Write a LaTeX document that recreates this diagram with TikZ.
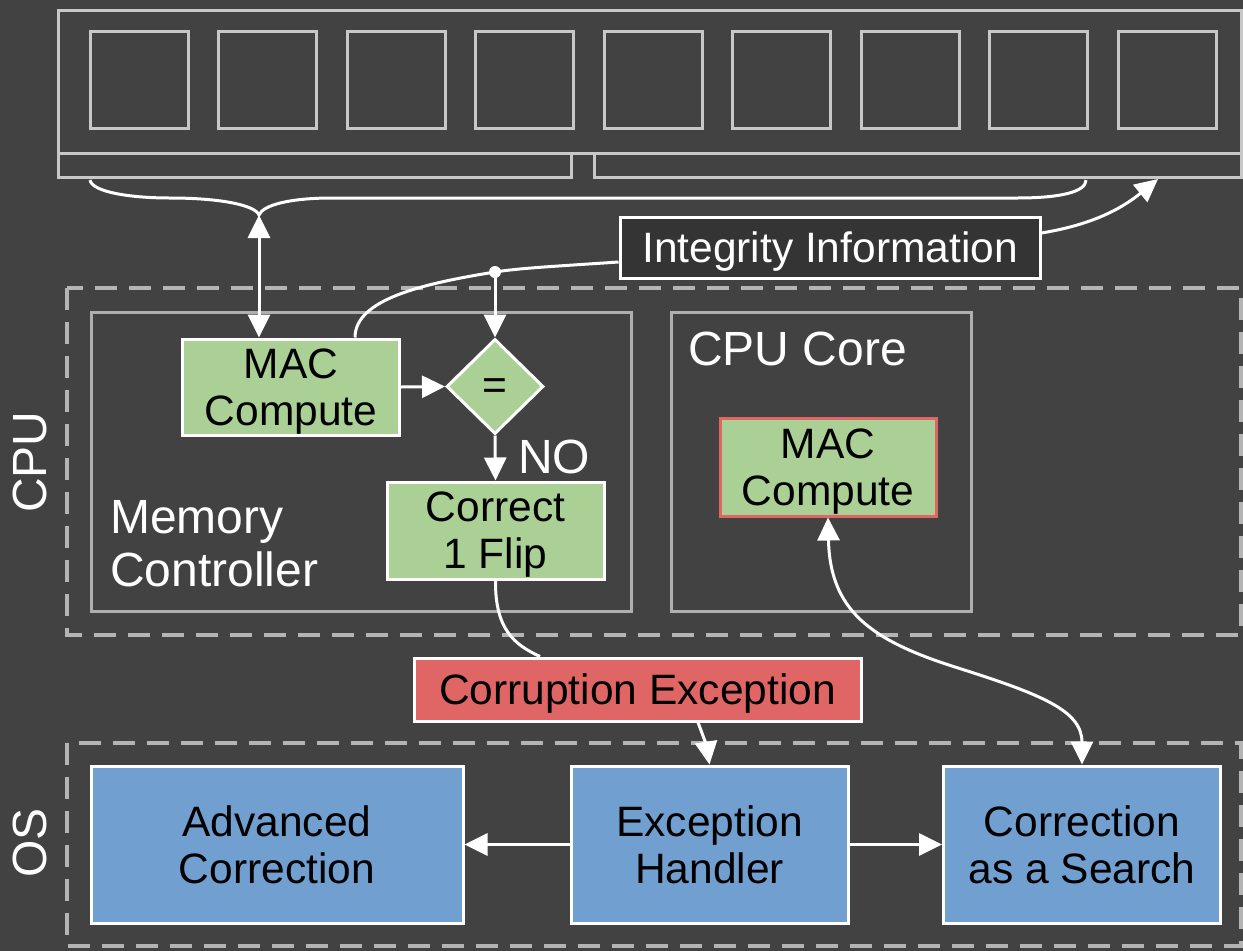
\documentclass[tikz,border=0pt]{standalone}
\usepackage{fontspec}
\setmainfont{Liberation Sans}
\usetikzlibrary{arrows.meta,shapes.geometric}
\definecolor{bg}{RGB}{66,66,66}
\definecolor{memgray}{RGB}{200,200,200}
\definecolor{boxgray}{RGB}{175,175,175}
\definecolor{dashgray}{RGB}{180,180,180}
\definecolor{mgreen}{RGB}{170,208,150}
\definecolor{mred}{RGB}{224,102,102}
\definecolor{mblue}{RGB}{112,159,208}
\definecolor{dark}{RGB}{52,52,52}
\begin{document}
\begin{tikzpicture}[x=1pt,y=-1pt,
  every node/.style={font=\fontsize{42.5}{47}\selectfont},
  wire/.style={draw=white,line width=3pt},
  tip/.style={-{Triangle[width=22pt,length=23pt]}},
  tips/.style={{Triangle[width=22pt,length=23pt]}-{Triangle[width=22pt,length=23pt]}},
  mem/.style={draw=memgray,line width=3pt},
  container/.style={draw=boxgray,line width=3pt},
  dashbox/.style={draw=dashgray,line width=3.5pt,dash pattern=on 22pt off 12pt},
  greenbox/.style={draw=white,line width=3pt,fill=mgreen,text=black,align=center,inner sep=0pt,text depth=0pt},
  bluebox/.style={draw=white,line width=3pt,fill=mblue,text=black,align=center,inner sep=0pt},
  label/.style={text=white,inner sep=0pt,font=\fontsize{48}{53}\selectfont}]
\useasboundingbox (0,0) rectangle (1243,951);
\fill[bg] (0,0) rectangle (1243,951);

% memory module
\draw[mem] (58,10) rectangle (1241,153);
\draw[mem] (58,153) rectangle (571,177);
\draw[mem] (594,153) rectangle (1241,177);
\foreach \i in {0,...,8} {
  \draw[mem] ({90+128.5*\i},31) rectangle ({188+128.5*\i},128);
}
\coordinate (memin) at (1158,179);

% brace
\draw[wire] (90,180) .. controls (92,192) and (130,198) .. (170,198)
  .. controls (220,198) and (255,205) .. (259,215)
  .. controls (263,205) and (290,198) .. (332,198) -- (1017,198)
  .. controls (1060,198) and (1086,192) .. (1086,180);
\coordinate (cusp) at (259,215);

% containers
\draw[dashbox] (67,288) rectangle (1241,635);
\draw[dashbox] (67,743) rectangle (1241,946);
\draw[container] (91,312) rectangle (631,611);
\draw[container] (671,312) rectangle (971,611);

\node[label,rotate=90] (cpulbl) at (30,462) {CPU};
\node[label,rotate=90] (oslbl) at (30,843) {OS};
\node[label,anchor=west,align=left] (mclbl) at (110,544) {Memory\\Controller};
\node[label,anchor=west] (corelbl) at (688,349) {CPU Core};

% nodes
\node[draw=white,line width=3pt,fill=dark,text=white,minimum width=420pt,minimum height=61pt,inner sep=0pt,text depth=0pt] (integ) at (830,247.5) {Integrity Information};
\node[greenbox,minimum width=217pt,minimum height=96pt] (mac1) at (291,387) {MAC\\Compute};
\node[greenbox,diamond,minimum width=97pt,minimum height=95pt] (eq) at (495,386.5) {\raisebox{-5pt}{=}};
\node[greenbox,minimum width=217pt,minimum height=97pt] (corr1) at (495.5,530.5) {Correct\\1 Flip};
\node[label] (nolbl) at (554,457) {NO};
\node[greenbox,draw=mred,minimum width=216pt,minimum height=98pt] (mac2) at (828,467) {MAC\\Compute};
\node[draw=white,line width=3pt,fill=mred,text=black,minimum width=447pt,minimum height=63pt,inner sep=0pt,text depth=0pt] (cexc) at (637.5,689.5) {Corruption Exception};
\node[bluebox,minimum width=372pt,minimum height=157pt] (adv) at (277,844.5) {Advanced\\Correction};
\node[bluebox,minimum width=277pt,minimum height=157pt] (handler) at (709.5,844.5) {Exception\\Handler};
\node[bluebox,minimum width=277pt,minimum height=157pt] (search) at (1082,844.5) {Correction\\as a Search};

% connectors
\draw[wire,tips] (cusp) -- (mac1.north -| cusp);
\draw[wire,tip] (integ.east |- 0,233) .. controls (1090,225) and (1120,210) .. (memin);
\draw[wire] (integ.west |- 0,262) .. controls (560,266) and (520,268) .. (495,272) coordinate (dot)
  .. controls (420,284) and (355,300) .. (mac1.north -| 355,0);
\fill[white] (dot) circle (6pt);
\draw[wire,tip] (dot) -- (eq.north);
\draw[wire,tip] (mac1.east) -- (eq.west);
\draw[wire,tip] (eq.south) -- (corr1.north);
\draw[wire] (corr1.south) .. controls (495,630) and (515,645) .. (cexc.north -| 540,0);
\draw[wire,tip] (cexc.south -| 698,0) .. controls (703,735) and (707,748) .. (handler.north);
\draw[wire,tips] (mac2.south) .. controls (830,610) and (870,640) .. (955,667)
  .. controls (1040,694) and (1082,710) .. (search.north);
\draw[wire,tip] (handler.west) -- (adv.east);
\draw[wire,tip] (handler.east) -- (search.west);
\end{tikzpicture}
\end{document}
